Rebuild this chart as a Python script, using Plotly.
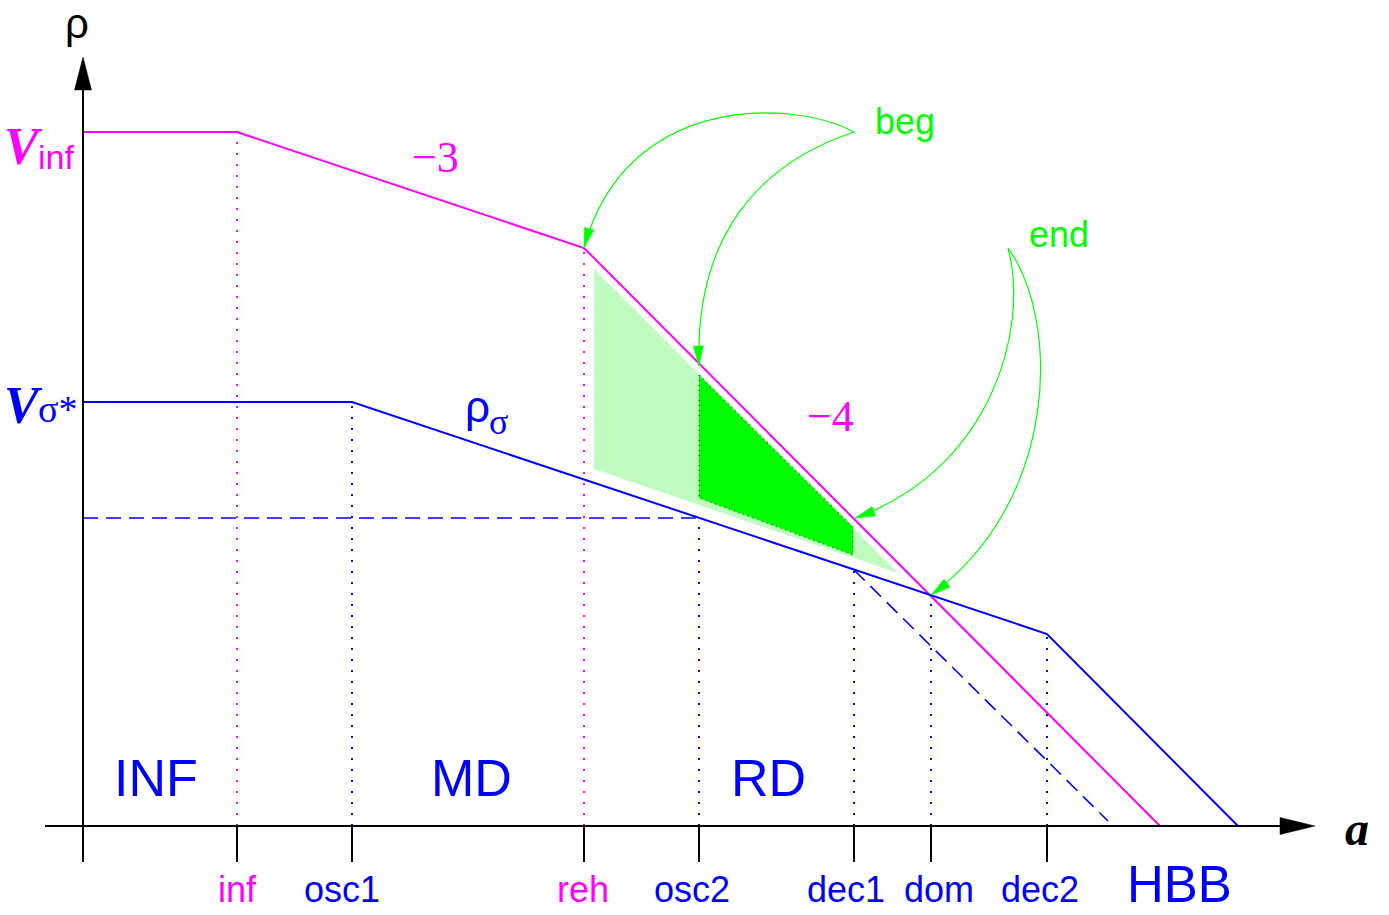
import math
import plotly.graph_objects as go

SANS = "Liberation Sans, Arial, sans-serif"
SERIF = "Liberation Serif, Times New Roman, serif"
MAGENTA = "#ff00ff"
BLUE = "#0000ff"
GREEN = "#00ff00"
BLACK = "#000000"

# ---- epochs along the (log) scale-factor axis ----
epoch_names = ["inf", "osc1", "reh", "osc2", "dec1", "dom", "dec2"]
epoch_a = [15.4, 26.9, 50.1, 61.6, 77.1, 84.8, 96.4]
epoch_rho = [69.4, 42.4, 57.8, 30.8, 25.6, 23.1, 19.2]
epoch_colors = [MAGENTA, BLUE, MAGENTA, BLUE, BLUE, BLUE, BLUE]
epoch_label_shift = [0.05, -1.0, -0.1, -0.7, -0.8, 0.8, -0.7]

# ---- energy densities (log rho vs log a) ----
infl_a = [0.0, 15.4, 50.1, 107.7]
infl_rho = [69.4, 69.4, 57.8, 0.0]

sigma_a = [0.0, 26.9, 96.4, 115.5]
sigma_rho = [42.4, 42.4, 19.2, 0.0]

early_decay_a = [77.1, 102.5]
early_decay_rho = [25.6, 0.5]

freeze_a = [0.0, 61.6]
freeze_rho = [30.8, 30.8]

# ---- allowed windows ----
window_a = [51.1, 51.1, 81.5]
window_rho = [55.7, 35.7, 25.3]
band_a = [61.6, 61.6, 77.0, 77.0]
band_rho = [45.1, 32.8, 27.1, 29.9]

# ---- era labels ----
era_names = ["INF", "MD", "RD"]
era_a = [7.3, 38.85, 68.5]

# ---- annotation curves (cubic Bezier control points) ----
beg_curves = [
    [(77.1, 69.4), (70.7, 72.8), (54.2, 73.1), (50.1, 57.8)],
    [(77.1, 69.4), (67.2, 66.1), (61.2, 58.6), (61.6, 46.0)],
]
end_curves = [
    [(92.5, 57.8), (94.7, 49.6), (90.7, 35.6), (77.2, 30.8)],
    [(92.5, 57.8), (97.7, 50.6), (97.7, 32.6), (84.8, 23.1)],
]

fig = go.Figure()


def line(xs, ys, color, width=2.0, dash="solid"):
    fig.add_trace(go.Scatter(x=xs, y=ys, mode="lines",
                             line=dict(color=color, width=width, dash=dash),
                             hoverinfo="skip", showlegend=False))


def head(tip, back, length, half, color):
    dx, dy = tip[0] - back[0], tip[1] - back[1]
    n = math.hypot(dx, dy)
    ux, uy = dx / n, dy / n
    bx, by = tip[0] - ux * length, tip[1] - uy * length
    px, py = -uy * half, ux * half
    fig.add_trace(go.Scatter(
        x=[tip[0], bx + px, bx - px, tip[0]],
        y=[tip[1], by + py, by - py, tip[1]],
        mode="lines", fill="toself", fillcolor=color,
        line=dict(color=color, width=0.5),
        hoverinfo="skip", showlegend=False))


# shaded windows
fig.add_trace(go.Scatter(x=window_a + [window_a[0]], y=window_rho + [window_rho[0]],
                         mode="lines", fill="toself", fillcolor="#c0fcc0",
                         line=dict(width=0), hoverinfo="skip", showlegend=False))
fig.add_trace(go.Scatter(x=band_a + [band_a[0]], y=band_rho + [band_rho[0]],
                         mode="lines", fill="toself", fillcolor=GREEN,
                         line=dict(color="#1a8a1a", width=1.5, dash="1px,4px"),
                         hoverinfo="skip", showlegend=False))

# dotted guides at each epoch
for a, r, c in zip(epoch_a, epoch_rho, epoch_colors):
    line([a, a], [0, r], c, width=2, dash="2px,9px")

# dashed guides
line(freeze_a, freeze_rho, BLUE, width=1.6, dash="15px,8px")
line(early_decay_a, early_decay_rho, BLUE, width=1.6, dash="15px,8px")

# main curves
line(infl_a, infl_rho, MAGENTA, width=2)
line(sigma_a, sigma_rho, BLUE, width=2)

# axes with arrowheads
line([0, 0], [-3.6, 74.0], BLACK, width=2)
line([-3.8, 120.0], [0, 0], BLACK, width=2)
head((0, 76.9), (0, 0), 3.3, 0.85, BLACK)
head((123.2, 0), (0, 0), 3.5, 0.85, BLACK)
for a in epoch_a:
    line([a, a], [0, -3.6], BLACK, width=2)

# green pointer curves
shapes = []
for cv in beg_curves + end_curves:
    p0, p1, p2, p3 = cv
    shapes.append(dict(
        type="path", xref="x", yref="y",
        path=f"M {p0[0]},{p0[1]} C {p1[0]},{p1[1]} {p2[0]},{p2[1]} {p3[0]},{p3[1]}",
        line=dict(color=GREEN, width=1.2)))
    head(p3, p2, 2.0, 0.5, GREEN)

annotations = []


def text(x, y, s, size, color, family=SANS, xanchor="center", yanchor="middle"):
    annotations.append(dict(x=x, y=y, xref="x", yref="y", text=s, showarrow=False,
                            font=dict(family=family, size=size, color=color),
                            xanchor=xanchor, yanchor=yanchor, borderpad=0))


# axis titles
text(-0.6, 80.3, "ρ", 42, BLACK)
text(127.4, -0.2, "<b><i>a</i></b>", 48, BLACK, family=SERIF)

# levels on the rho axis
text(-3.9, 68.0, "<b><i>V</i></b>", 52, MAGENTA, family=SERIF, xanchor="right")
text(-4.6, 66.9, "inf", 34, MAGENTA, xanchor="left")
text(-3.9, 42.1, "<b><i>V</i></b>", 52, BLUE, family=SERIF, xanchor="right")
text(-4.6, 41.7, "σ*", 38, BLUE, family=SERIF, xanchor="left")

# slopes and curve labels
text(35.2, 66.9, "−3", 44, MAGENTA, family=SERIF)
text(74.7, 41.0, "−4", 44, MAGENTA, family=SERIF)
text(39.4, 42.0, "ρ", 44, BLUE)
text(41.5, 40.4, "σ", 36, BLUE, family=SERIF)
text(82.2, 70.5, "beg", 36, GREEN)
text(97.6, 59.2, "end", 36, GREEN)

# eras
for name, a in zip(era_names, era_a):
    text(a, 4.8, name, 52, BLUE)
text(109.65, -5.8, "HBB", 51, BLUE)

# epoch labels
for name, a, c, s in zip(epoch_names, epoch_a, epoch_colors, epoch_label_shift):
    text(a + s, -6.3, name, 36, c)

fig.update_layout(
    width=1389, height=915,
    margin=dict(l=0, r=0, t=0, b=0),
    paper_bgcolor="white", plot_bgcolor="white",
    xaxis=dict(range=[-8.3, 130.6], visible=False, domain=[0, 1], fixedrange=True),
    yaxis=dict(range=[-8.9, 82.6], visible=False, domain=[0, 1], fixedrange=True),
    shapes=shapes, annotations=annotations, showlegend=False,
)

fig.write_html("out.html", config={"displayModeBar": False})
